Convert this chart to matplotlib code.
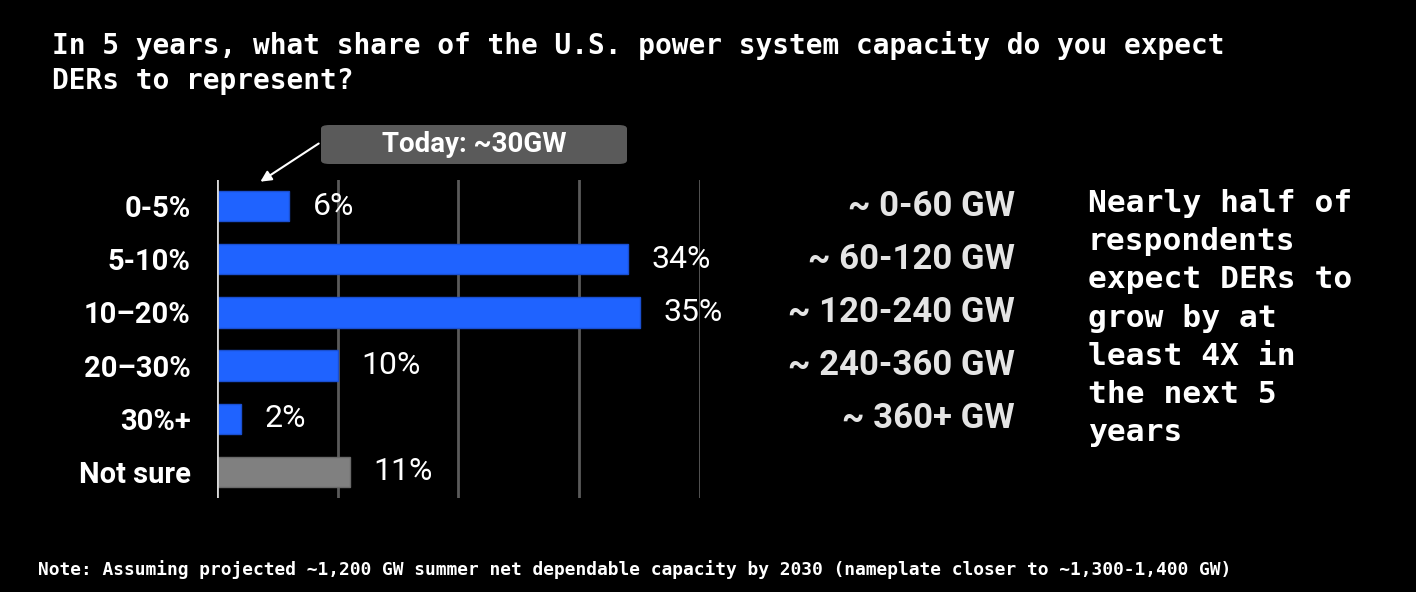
import matplotlib
matplotlib.use("Agg")
import matplotlib.pyplot as plt
from matplotlib.patches import FancyBboxPatch

# survey answers
categories = ["0-5%", "5-10%", "10\u201320%", "20\u201330%", "30%+", "Not sure"]
shares = [6, 34, 35, 10, 2, 11]
gw_labels = ["~ 0-60 GW", "~ 60-120 GW", "~ 120-240 GW", "~ 240-360 GW", "~ 360+ GW"]

title = ("In 5 years, what share of the U.S. power system capacity do you expect\n"
         "DERs to represent?")
side_note = ("Nearly half of\nrespondents\nexpect DERs to\ngrow by at\n"
             "least 4X in\nthe next 5\nyears")
footnote = ("Note: Assuming projected ~1,200 GW summer net dependable capacity by 2030 "
            "(nameplate closer to ~1,300-1,400 GW)")
today_text = "Today: ~30GW"

BLUE = "#1f63ff"
GRAY = "#808080"
MONO = "DejaVu Sans Mono"
SANS = "Roboto"

W, H = 1416, 592
fig = plt.figure(figsize=(W / 100, H / 100), dpi=100, facecolor="black")
ax = fig.add_axes([217 / W, 1 - 498 / H, (700 - 217) / W, (498 - 180) / H])
ax.set_facecolor("black")

colors = [BLUE] * (len(shares) - 1) + [GRAY]
edges = ["#1a4fd0"] * (len(shares) - 1) + ["#6a6a6a"]
ypos = list(range(len(categories)))
ax.barh(ypos, shares, height=0.57, color=colors, edgecolor=edges, linewidth=1, zorder=3)

ax.set_xlim(0, 40)
ax.set_ylim(len(categories) - 0.51, -0.49)
for x in [10, 20, 30, 40]:
    ax.axvline(x, color="#5a5a5a", lw=2, zorder=1)
ax.axvline(0, color="#d8d8d8", lw=2, zorder=4)
for s in ax.spines.values():
    s.set_visible(False)
ax.set_xticks([])
ax.set_yticks(ypos)
ax.set_yticklabels(categories, fontsize=21, fontweight="bold", color="white", family=SANS)
ax.tick_params(axis="y", length=0, pad=19)

for y, v in zip(ypos, shares):
    ax.annotate(f"{v}%", (v, y), xytext=(17, 0), textcoords="offset points",
                va="center", ha="left", fontsize=23, color="white", family=SANS)

# GW equivalents on the right of the plot
for y, lab in zip(ypos, gw_labels):
    ax.annotate(lab, (1, y), xycoords=("figure fraction", "data"),
                xytext=(1015 / W, 0), textcoords=("figure fraction", "offset points"),
                ha="right", va="center", fontsize=25, fontweight="bold",
                color="#e4e4e4", family=SANS, annotation_clip=False)

# "Today" callout
box = FancyBboxPatch((321 / W, 1 - 164 / H), (627 - 321) / W, (164 - 125) / H,
                     boxstyle="round,pad=0,rounding_size=0.006",
                     transform=fig.transFigure, facecolor="#5a5a5a", edgecolor="none")
fig.patches.append(box)
fig.text(474 / W, 1 - 145 / H, today_text, ha="center", va="center",
         fontsize=20, fontweight="bold", color="white", family=SANS)
ax.annotate("", xy=(3.4, -0.43), xycoords="data",
            xytext=(321 / W, 1 - 142 / H), textcoords="figure fraction",
            arrowprops=dict(arrowstyle="-|>", color="white", lw=1.5, mutation_scale=16),
            annotation_clip=False)

fig.text(52 / W, 1 - 31 / H, title, ha="left", va="top", fontsize=20,
         fontweight="bold", color="white", family=MONO, linespacing=1.33)
fig.text(1088 / W, 1 - 189 / H, side_note, ha="left", va="top", fontsize=22.5,
         fontweight="bold", color="white", family=MONO, linespacing=1.40)
fig.text(38 / W, 1 - 570 / H, footnote, ha="left", va="center", fontsize=12.85,
         fontweight="bold", color="white", family=MONO)

fig.savefig("out.png", dpi=100, facecolor="black")
